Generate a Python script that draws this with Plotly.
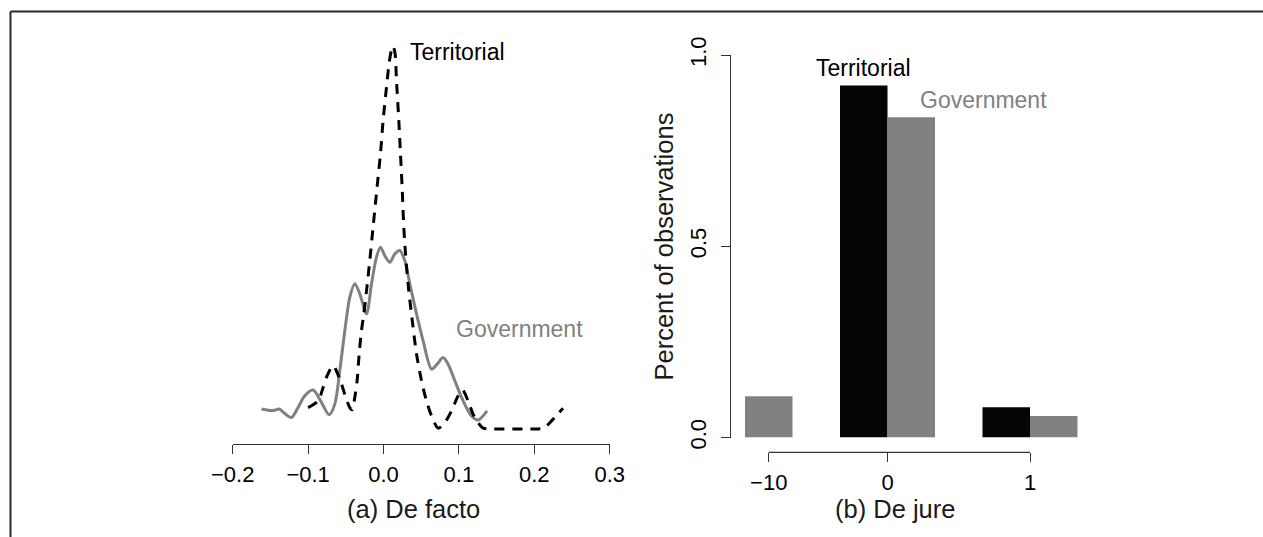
import plotly.graph_objects as go

# ---------------- data ----------------
# (a) De facto: density curves
terr_x = [-0.100, -0.0867, -0.0801, -0.0748, -0.0668, -0.0615, -0.0557, -0.0500, -0.0447, -0.0416,
          -0.0381, -0.0350, -0.0323, -0.0292, -0.0261, -0.0225, -0.0182, -0.0138, -0.0085, -0.0040,
          -0.0005, 0.0040, 0.0074, 0.0106, 0.0127, 0.0154, 0.0172, 0.0203, 0.0225, 0.0247,
          0.0269, 0.0292, 0.0326, 0.0371, 0.0438, 0.0504, 0.0570, 0.0637, 0.0724, 0.0813,
          0.0902, 0.0990, 0.1048, 0.1122, 0.1188, 0.1255, 0.1320, 0.1450, 0.1650, 0.1850,
          0.2050, 0.2140, 0.2190, 0.2300, 0.2380]
terr_y = [1.12, 1.47, 2.17, 2.79, 3.32, 2.96, 2.35, 1.65, 1.12, 1.00,
          1.65, 2.53, 3.93, 5.16, 6.04, 7.26, 8.84, 10.6, 12.7, 14.46,
          16.2, 17.96, 19.2, 19.9, 20.1, 19.7, 18.3, 16.2, 14.46, 12.7,
          10.6, 9.19, 7.6, 6.04, 3.93, 2.53, 1.47, 0.68, 0.04, 0.33,
          0.95, 1.74, 2.04, 1.47, 0.77, 0.33, 0.04, 0.0, 0.0, 0.0,
          0.0, 0.05, 0.26, 0.72, 1.08]

gov_x = [-0.1618, -0.1530, -0.1442, -0.1385, -0.1310, -0.1220, -0.1133, -0.1044, -0.0934, -0.0823,
         -0.0721, -0.0646, -0.0580, -0.0513, -0.0447, -0.0381, -0.0314, -0.0225, -0.0159, -0.0093,
         -0.0040, 0.0017, 0.0084, 0.0150, 0.0216, 0.0282, 0.0349, 0.0438, 0.0525, 0.0637,
         0.0711, 0.0790, 0.0857, 0.0946, 0.1056, 0.1167, 0.1255, 0.1374]
gov_y = [1.04, 0.98, 0.98, 1.04, 0.81, 0.60, 1.12, 1.74, 2.04, 1.39,
         0.74, 1.30, 3.05, 5.16, 6.91, 7.62, 7.09, 6.04, 7.62, 9.02,
         9.54, 9.10, 8.75, 9.19, 9.37, 8.84, 7.62, 6.04, 4.63, 3.14,
         3.40, 3.75, 3.40, 2.53, 1.47, 0.68, 0.47, 0.95]

defacto_ticks = [-0.2, -0.1, 0.0, 0.1, 0.2, 0.3]

# (b) De jure: share of observations
dejure_categories = ["\u221210", "0", "1"]
dejure_territorial = [0.0, 0.92, 0.079]
dejure_government = [0.108, 0.837, 0.056]
dejure_yticks = [0.0, 0.5, 1.0]

# ---------------- layout helpers ----------------
W, H = 1263, 537
FONT = "Liberation Sans, Arial, Helvetica, sans-serif"
GRAY = "#808080"
AX = "#333333"


def py(p):  # pixel-from-top -> paper fraction
    return 1 - p / H


def px(p):
    return p / W


# bar positions (R barplot beside=TRUE, space=c(0,1))
n = len(dejure_categories)
terr_pos = [3 * i + 1.5 for i in range(n)]
gov_pos = [3 * i + 2.5 for i in range(n)]
tick_pos = [gov_pos[0], (terr_pos[1] + gov_pos[1]) / 2, (terr_pos[2] + gov_pos[2]) / 2]

fig = go.Figure()

fig.add_trace(go.Scatter(x=gov_x, y=gov_y, mode="lines", xaxis="x", yaxis="y",
                         line=dict(color=GRAY, width=3, shape="spline", smoothing=0.8),
                         showlegend=False, hoverinfo="skip"))
fig.add_trace(go.Scatter(x=terr_x, y=terr_y, mode="lines", xaxis="x", yaxis="y",
                         line=dict(color="black", width=3, dash="10px,8px", shape="spline", smoothing=0.8),
                         showlegend=False, hoverinfo="skip"))

fig.add_trace(go.Bar(x=terr_pos, y=dejure_territorial, width=1, xaxis="x2", yaxis="y2",
                     marker=dict(color="#050505", line=dict(width=0)), showlegend=False, hoverinfo="skip"))
fig.add_trace(go.Bar(x=gov_pos, y=dejure_government, width=1, xaxis="x2", yaxis="y2",
                     marker=dict(color=GRAY, line=dict(width=0)), showlegend=False, hoverinfo="skip"))

tickfont = dict(family=FONT, size=22, color="black")

fig.update_layout(
    template="none",
    width=W, height=H, autosize=False,
    margin=dict(l=0, r=0, t=0, b=0, pad=0, autoexpand=False),
    paper_bgcolor="white", plot_bgcolor="white",
    font=dict(family=FONT, color="black"),
    barmode="overlay",
    xaxis=dict(domain=[px(232.7), px(609.7)], range=[-0.2, 0.3], anchor="y", automargin=False,
               tickvals=defacto_ticks, tickformat=".1f",
               showline=True, linecolor=AX, linewidth=1.2,
               ticks="outside", ticklen=9, tickwidth=1.2, tickcolor=AX,
               showgrid=False, zeroline=False, tickfont=tickfont, ticklabelstandoff=1),
    yaxis=dict(domain=[py(444.3), py(29.6)], range=[-0.81, 20.97], anchor="x", automargin=False,
               visible=False, showgrid=False, zeroline=False),
    xaxis2=dict(domain=[px(731), px(1101)], range=[(731 - 650) / 47.5, (1101 - 650) / 47.5],
                anchor="free", position=py(452.3), automargin=False,
                tickvals=tick_pos, ticktext=dejure_categories,
                showline=False, ticks="outside", ticklen=9, tickwidth=1.2, tickcolor=AX,
                showgrid=False, zeroline=False, tickfont=tickfont, ticklabelstandoff=1),
    yaxis2=dict(domain=[py(437.5), py(55)], range=[0, 1], anchor="x2", automargin=False,
                tickvals=dejure_yticks, tickformat=".1f", tickangle=-90,
                showline=True, linecolor=AX, linewidth=1.2,
                ticks="outside", ticklen=9, tickwidth=1.2, tickcolor=AX,
                showgrid=False, zeroline=False, tickfont=tickfont, ticklabelstandoff=6),
)

# x-axis line of panel (b) spans only first..last tick (R style)
fig.add_shape(type="line", xref="x2", yref="paper", x0=tick_pos[0], x1=tick_pos[-1],
              y0=py(452.3), y1=py(452.3), line=dict(color=AX, width=1.2))

# frame lines
fig.add_shape(type="line", xref="paper", yref="paper", x0=px(10.5), x1=1.0,
              y0=py(11.5), y1=py(11.5), line=dict(color="#2a2a2a", width=2))
fig.add_shape(type="line", xref="paper", yref="paper", x0=px(10.5), x1=px(10.5),
              y0=py(11.5), y1=0.0, line=dict(color="#2a2a2a", width=2))

lab = dict(family=FONT, size=23)
title_font = dict(family=FONT, size=25.5, color="#1a1a1a")

# labels in panel (a)
fig.add_annotation(x=0.0322, y=19.8, xref="x", yref="y", text="Territorial", showarrow=False,
                   xanchor="left", yanchor="middle", font=dict(lab, color="black"))
fig.add_annotation(x=0.0932, y=5.24, xref="x", yref="y", text="Government", showarrow=False,
                   xanchor="left", yanchor="middle", font=dict(lab, color=GRAY))
# labels in panel (b)
fig.add_annotation(x=4.49, y=0.965, xref="x2", yref="y2", text="Territorial", showarrow=False,
                   xanchor="center", yanchor="middle", font=dict(lab, color="black"))
fig.add_annotation(x=7.02, y=0.882, xref="x2", yref="y2", text="Government", showarrow=False,
                   xanchor="center", yanchor="middle", font=dict(lab, color=GRAY))

# axis titles
fig.add_annotation(x=px(413), y=py(509), xref="paper", yref="paper", text="(a) De facto",
                   showarrow=False, xanchor="center", yanchor="middle", font=title_font)
fig.add_annotation(x=px(894.5), y=py(509), xref="paper", yref="paper", text="(b) De jure",
                   showarrow=False, xanchor="center", yanchor="middle", font=title_font)
fig.add_annotation(x=px(664), y=py(246.5), xref="paper", yref="paper", text="Percent of observations",
                   showarrow=False, textangle=-90, xanchor="center", yanchor="middle", font=title_font)

fig.write_html("out.html")
